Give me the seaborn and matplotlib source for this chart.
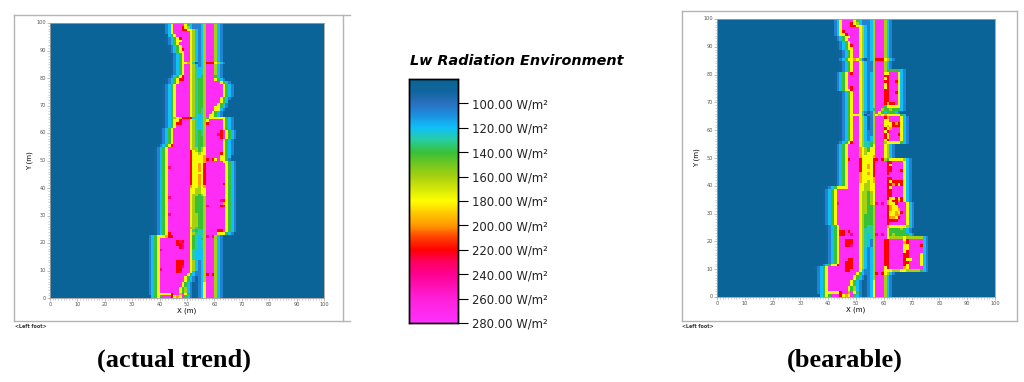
"""Two Lw radiation maps sharing one colour legend."""
import matplotlib

matplotlib.use("Agg")
import matplotlib.pyplot as plt
import numpy as np
import seaborn as sns
from matplotlib.colors import LinearSegmentedColormap
from matplotlib.lines import Line2D

W, H = 1024, 382

# legend colours, W/m2 -> colour
LEVELS = [80, 90, 100, 110, 120, 130, 140, 150, 160, 180, 190, 200, 210, 220, 230, 240, 260, 280]
COLOURS = ["#0a6496", "#0f659c", "#2a70c0", "#1a92e0", "#10c0f8", "#28cda0", "#38c038", "#72c820",
           "#a8d010", "#ffff00", "#ffc800", "#ff9800", "#ff4000", "#ff0000", "#ff0060", "#ff0090",
           "#ff20d8", "#ff30ff"]
TICKS = [100, 120, 140, 160, 180, 200, 220, 240, 260, 280]
AXIS_TICKS = list(range(0, 101, 10))

# what each letter in the rows below reads as, W/m2
CELL_VALUE = {".": 82, "a": 90, "b": 105, "c": 120, "t": 130, "g": 140, "l": 160,
              "y": 178, "o": 198, "r": 220, "p": 240, "m": 275}

# one string per metre, y=99 first. left of | ends at x=56, right of | starts at x=57
ACTUAL_ROWS = [
    "bcymmmmygcbbbcl|mmmlcb",
    "bcymmmrylcbbbcl|mmmlcb",
    "bcymmmrryylcbcl|mmmlcb",
    "bcymmmmmmylcbcl|mmmlcb",
    "acgymmmmmylcbcl|mmmlcb",
    "abcgyrmmmylcbcl|mmmlcb",
    "abcgyymmmylcbcl|mmmlcb",
    "abcgymmmmylcbcl|mmmlcb",
    "abcgymmmylcbcl|mmmlcb",
    "abcgyrmmylcbcl|mmmlcb",
    # y=89
    "abcgyymmylcbcl|mmmlcb",
    "abcgymmylcbcl|mmmlcb",
    "abcgymmylcbcl|mmmlcb",
    "abcgymmylcbcl|mmmlcb",
    "abcgyyoytabcl|rrrylcb",
    "abcgymmylcbcl|mmmlcb",
    "abcgymmyltctl|mmmlcb",
    "abcgymmyltctl|mmmlcb",
    "abcgymmyltctl|mmmlcb",
    "abcgyrmmyltcgl|mmmgcb",
    # y=79
    "abcgyrrmmyltggl|mmmygcb",
    "abcgymmmmyltggl|mmmmmygcb",
    "abcgymmmmmyltggl|mmmmmmygcb",
    "abcgymmmmmyltggl|mmmmmmygcb",
    "abcgymmmmmyltggl|mmmmmmygcb",
    "abcgymmmmmyltggl|mmmmmmygcb",
    "abcgymmmmmyltggl|mmmmmmygcb",
    "abcgymmmmmyltggl|mmmmmygcb",
    "abcgymmmmmyltggl|mmmmmygc",
    "abcgymmmmmyltggl|mmmmygcb",
    # y=69
    "abcgymmmmmyltggl|mmmyygcb",
    "abcgymmmmmyltgtl|mmmyycb",
    "abcgymmmmmyltgtl|mmygcb",
    "abcgymmmmmyltctl|myygcb",
    "abcglyorrrrctctl|gyyyyyygcb",
    "abcgyyrmmmyltctl|ymmmmmygcb",
    "abcgyrrmmmyltctl|rmmmmmygcb",
    "abcgymmmmmyltctl|mmmmmmygcb",
    "abcgymmmmmmyltctl|mmmmmmygcb",
    "abcgymmmmmmyltgtl|mmmmmrmygcb",
    # y=59
    "abcgymmmmmmyltgtl|mmmmprmygcb",
    "abcgymmmmmmyltggl|mmmmmrmygcb",
    "abcgymmmmmmyltggl|mmmmmmygcb",
    "abcgymmmmmmyltggl|mmmmmmygcb",
    "abcgyrmmmmmmyltggl|mmmmmmygcb",
    "abcgymmmmmmmmyllgly|mmmmmmygcb",
    "abcgymmmmmmmmrylgly|mmmmmmygcb",
    "abcgymmmmmmmmryylyy|mmmmmrygcb",
    "abcgymmmmmmmmryyyyo|mmmmmyygc",
    "abcgymmmmmmmmryyyyo|rmrymyygb",
    # y=49
    "abcgymmmmmmmmryyyyo|mmmmmmyygcb",
    "abcgymmmmmmmmryyoyr|mmmmmmmygcb",
    "abcgypmmmmmmmryyoyr|mmmmmmmygcb",
    "abcgymmmmmmmmryyoyr|mmmmmmmygcb",
    "abcgymmmmmmmmryyyyr|mmmmmmmygcb",
    "abcgymmmmmmmmryyoyr|mmmmmmmygcb",
    "abcgymmmmmmmmryyoyr|mmmmmmmygcb",
    "abcgymmmmmmmmryyoyr|mmmmmmmygcb",
    "abcgymmmmmmmmryyoyr|mmmmmmrygcb",
    "abcgymmmmmmmmoyylyo|mmmmmmmygcb",
    # y=39
    "abcgymmmmmmmmyyllyy|mmmmmmmygcb",
    "abcgymmmmmmmmyyllyy|mmmmmmmygcb",
    "abcgymmmmmmmmyllgly|mmmmmmmygcb",
    "abcgypmmmmmmmylgggl|mmmmmmmygcb",
    "abcgymmmmmmmmylgggl|mmmmmprygcb",
    "abcgymmmmmmmmylgggl|mmmmmmoygcb",
    "abcgymmmmmmmmylgggl|pmmmmrpygcb",
    "abcgymmmmmmmmylgggl|mmmmmmmygcb",
    "abcgymmmmmmmmylgggl|mmmmmmmygcb",
    "abcgypmmmmmmmyllggl|mmmmmmmygcb",
    # y=29
    "abcgymmmmmmmmyllggl|mmmmmmmygcb",
    "abcgymmmmmmmmyllggl|mmmmmmmygcb",
    "abcgymmmmmmmmyllggl|mmmmmmmygcb",
    "abcgymmmmmmmmyllggl|mmmmmmmygcb",
    "abcgymmmmmmmmoltggl|mmmmmmmygcb",
    "abcgymmmmmmmmytgtcl|mmmmrrmygcb",
    "abcgyrmmmmmmmyltttl|mmmmyyygcb",
    "bcgyyyorrmmmmmmygtctl|pmplcb",
    "bcgymmmmmmmmmmmygtcgl|mmmlcb",
    "bcgymmmmmmrprmmygtctl|mmmlcb",
    # y=19
    "bcgymmmmmmrrpmmygtctl|mmmlcb",
    "bcgymmmmmmmrpmmygtctl|mmmlcb",
    "bcgypmmmmmmmmmmytcccl|mmmlcb",
    "bcgymmmmmmmmmmmytcccl|mmmlcb",
    "bcgymmmmmmmmmmmytcccl|mmmlcb",
    "bcgymmmmmmmmmmmytcccl|mmmlcb",
    "bcgymmmmmmrrrmmylcbcl|mmmlcb",
    "bcgymmmmmmrrrmmylcbcl|mmmlcb",
    "bcgymmmmmmrrpmmylcbcl|mmmlcb",
    "bcgypmmmmmrrmmmylcbcl|mmmlcb",
    # y=9
    "bcgymmmmmmrpmmmycbbcl|mmmlcb",
    "bcgymmmmmmmmmmygcbbcl|rmrlcb",
    "bcgymmmmmmmmmygcbabcl|mmmlcb",
    "bcgymmmmmmmmmygcbabcl|mmmlcb",
    "bcgymmmmmmmmygcb.abcy|mmmlcb",
    "bcgymmmmmmmmygcb.abcy|mmmlcb",
    "bcgymmmmmmmyglcb.abcy|mmmlcb",
    "bcgymmmmmmmyglcb.abcy|mmmlcb",
    "bcgyyyyyrmmomygb.abcy|mmmlcb",
    ".cgygmmmryoymgcb.abcy|mmmlcb",
]

BEARABLE_ROWS = [
    "bcymmmmygcbbbcl|mmmlcb",
    "bcymmmrylcbbbcl|mmmlcb",
    "bcymmmrryylcbcl|mmmlcb",
    "bcymmmmmmylcbcl|mmmlcb",
    "bcyrmmmmmylcbcl|mmmlcb",
    "bcyyrmmmmylcbcl|mmmlcb",
    "abcgyymmmylcbcl|mmmlcb",
    "abcgymmmmylcbcl|mmmlcb",
    "abcgymmmylcbcl|mmmlcb",
    "abcgyrmmylcbcl|mmmlcb",
    # y=89
    "abcgyymmylcbcl|mmmlcb",
    "abcgymmylcbcl|mmmlcb",
    "abcgymmylcbcl|mmmlcb",
    "abcgymmylcbcl|mmmlcb",
    "abcgyyoylbabcl|rrrylcb",
    "abcgymmylcbbl|mmmlcb",
    "abcgymmylcbbl|mmmlcb",
    "abcgymmylcbbl|mmmlcb",
    "abcgymmylcbbl|mmmlgggggcb",
    "abcgymrmmylcbcl|mmmyymmmycb",
    # y=79
    "abcgymmmmylcbcl|mmmrrmmmycb",
    "abcgymmmmylcbcl|mmmyrmmmycb",
    "abcgymmmmylcbcl|mmmrrmmrycb",
    "abcgymmmmylcbcl|mmmyrmmmycb",
    "abcgymrmmylcbcl|mmmyrmmmycb",
    "abcgyyrmmylcbcl|mmmrrmmmycb",
    "abcgymmylcbcl|mmmrrmmrycb",
    "abcgymmylcbcl|mmmrrmmmycb",
    "abcgymmylcbcl|mmmrrmmmycb",
    "abcgymmylcbcl|mmmrrmmmycb",
    # y=69
    "abcgymmylcbcl|mmmrorrmycb",
    "abcgymmylcbcl|mmmgyyyyycb",
    "abcgymmylcbcg|mmlgglgggcb",
    "abcgymmytbabl|mygcgggcb",
    "abcgyyyytabbl|ylyoyyyyygc",
    "abcgymmylcabl|mmmrommmmycb",
    "abcgymmylcabl|mmmyymmmmycb",
    "abcgymmylcabl|mmmyyyrorycb",
    "abcgymmylcabl|mmmyoyrrrycb",
    "abcgymmylcabl|mmmryommmycb",
    # y=59
    "abcgymmylcbbl|mmmyrmmmmycb",
    "abcgymmylcbbl|mmmrymmmrycb",
    "abcgymmylcbcl|mmmrymmmmycb",
    "abcgymmylcbcl|mmmyrmmmmycb",
    "abcgyrmmyltcgl|mmmlyyyyygcb",
    "abcgymmmmyltcgy|mmmylcb",
    "abcgymmmmoylgyy|mmmylcb",
    "abcgymmmmoylgyy|mmmylcb",
    "abcgymmmmoylyyy|mmmylcb",
    "abcgymmmmoyyyyo|mmmylcb",
    # y=49
    "abcgyrmmmryyyyr|rmrlgyyyyylcb",
    "abcgymmmmryyyyr|mmmmrrmmmmycb",
    "abcgymmmmryyoyr|mmmmrymmmmycb",
    "abcgymmmmryyoyr|mmmmrrmmmmycb",
    "abcgymmmmryyyyr|mmmmrrmmmrycb",
    "abcgymmmmoyyoyr|mmmmrmmmmmycb",
    "abcgymmmmoyyyyr|mmmmmmmmmmycb",
    "abcgymmmmoyyyyo|mmmmrrmmmmycb",
    "abcgymmmmoyylyo|mmmmryrrrrycb",
    "abcgymmmmyyllyy|mmmmrroryrycb",
    # y=39
    "abcgyyyymmmmyyllyy|mmmmrymmmmycb",
    "abcgymmmmmmmmyyllyy|mmmmrrmmmmycb",
    "abcgymmmmmmmmyllgly|mmmmrrmmmmycb",
    "abcgymmmmmmmmyllgly|mmmmrrmmmmycb",
    "abcgymmmmmmmmyllgly|mmmmryyryrycb",
    "abcgymmmmmmmmyllgly|mmmmoyrrorycb",
    "abcgypmmmmmmmyllgly|pmpmoyyrmmmycb",
    "abcgymmmmmmmmyllggl|mmmmroyymmmycb",
    "abcgymmmmmmmmyllggl|mmmmroyyommycb",
    "abcgymmmmmmmmyllggl|mmmmryyoyrmycb",
    # y=29
    "abcgymmmmmmmmylgggl|mmmmryyoommycb",
    "abcgymmmmmmmmylgggl|mmmmrooyrmmycb",
    "abcgymmmmmmmmylgggl|mmmmrrrrmmmycb",
    "abcgymmmmmmmmylgggl|mmmmrmmmmmmycb",
    "abcgymmmmmmmylgttl|mmmmoyyyyyylcb",
    "abcgymmmmmmmyltttl|mmmmygggglgcb",
    "abcgyrrmrmmmyltttl|mmmmyggggggcb",
    "abcgyrrmmpmmyltctl|pmpmyglgggggcb",
    "abcgymmmmmmmyltctl|mmmmylllllyllllllcb",
    "abcgymmrrrmmyltcbl|mmmrrmmmmmyrmmmmmcb",
    # y=19
    "abcgymmrrrmmyltcbl|mmmrrmmmmmormmmmmcb",
    "abcgymmrrpmmyltcbl|mmmrrmmmmmyymmmmrcb",
    "abcgymmmmmmmylcbcl|mmmrrmmmmmyymmmmmcb",
    "abcgymmmmmmmylcbcl|mmmrrmmmmmyrmmmmmcb",
    "abcgymmmmmmmylcbcl|mmmrrmmmmmrrmmmmycb",
    "abcgymmmmmmmylcbcl|mmmrrmmmmmrrmmmmycb",
    "abcgymmmrrmmylcbcl|mmmrrmmmmmryymmmycb",
    "abcgymmrrrmmylcbcl|mmmrrmmmmmrrmmmmycb",
    "abcgyyrmmrrrmmylcbcl|mmmrrmmmmmrymmmmycb",
    "abcgymmmmmmrrrmmylcbcl|mmmyrmmmmmoymmmmmcb",
    # y=9
    "bcgymmmmmmrrmmmycbbcl|mmmyyylllyylllllgcb",
    "bcgymmmmmmmmmmygcbbcl|rmrylcb",
    "bcgymmmmmmmmmygcbabcl|mmmlcb",
    "bcgymmmmmmmmmygcbabcl|mmmlcb",
    "bcgymmmmmmmmygcb.abcy|mmmlcb",
    "bcgymmmmmmmmygcb.abcy|mmmlcb",
    "bcgymmmmmmmyglcb.abcy|mmmlcb",
    "bcgymmmmmmmyglcb.abcy|mmmlcb",
    "bcgyyyyyrmmomygb.abcy|mmmlcb",
    ".cgygmmmryoymgcb.abcy|mmmlcb",
]


def to_grid(rows):
    grid = np.full((100, 100), float(CELL_VALUE["."]))
    for i, row in enumerate(rows):
        left, right = row.split("|")
        cells = left.rjust(23, ".") + right.ljust(22, ".")
        grid[i, 34:79] = [CELL_VALUE[c] for c in cells]
    return grid


def px_axes(fig, x0, y0, x1, y1):
    return fig.add_axes([x0 / W, 1 - y1 / H, (x1 - x0) / W, (y1 - y0) / H])


def px_line(fig, x0, y0, x1, y1):
    fig.add_artist(Line2D([x0 / W, x1 / W], [1 - y0 / H, 1 - y1 / H], color="#b4b4b4", lw=1.0))


def draw_map(ax, rows, cmap, **kwargs):
    sns.heatmap(to_grid(rows), ax=ax, cmap=cmap, vmin=LEVELS[0], vmax=LEVELS[-1], **kwargs)
    ax.set_xticks(AXIS_TICKS, labels=AXIS_TICKS, rotation=0)
    ax.set_yticks(AXIS_TICKS, labels=AXIS_TICKS[::-1], rotation=0)
    ax.set_xticks(np.arange(0, 101), minor=True)
    ax.set_yticks(np.arange(0, 101), minor=True)
    ax.tick_params(which="major", length=2, width=0.4, color="#888888", labelsize=3.6,
                   labelcolor="#555555", pad=1)
    ax.tick_params(which="minor", length=1.4, width=0.4, color="#aaaaaa")
    ax.set_xlabel("X (m)", fontsize=5, labelpad=0.5)
    ax.set_ylabel("Y (m)", fontsize=5, labelpad=2)
    for spine in ax.spines.values():
        spine.set_visible(True)
        spine.set_color("#a0a0a0")
        spine.set_linewidth(0.6)


def main():
    cmap = LinearSegmentedColormap.from_list(
        "lw", [((v - LEVELS[0]) / (LEVELS[-1] - LEVELS[0]), c) for v, c in zip(LEVELS, COLOURS)], N=512
    )
    fig = plt.figure(figsize=(W / 100, H / 100), dpi=100)

    cax = px_axes(fig, 409, 79, 458, 323)
    ax_left = px_axes(fig, 50, 23, 324, 298)
    draw_map(ax_left, ACTUAL_ROWS, cmap, cbar_ax=cax, cbar_kws={"ticks": TICKS})
    ax_right = px_axes(fig, 717, 19, 995, 297)
    draw_map(ax_right, BEARABLE_ROWS, cmap, cbar=False)

    cax.invert_yaxis()
    cax.set_yticks(TICKS, labels=[f"{t:.2f} W/m²" for t in TICKS])
    cax.tick_params(length=7.2, width=0.8, color="black", labelsize=8.4, labelcolor="#222222", pad=2.8)
    for spine in cax.spines.values():
        spine.set_visible(True)
        spine.set_color("black")
        spine.set_linewidth(1.0)
    fig.text(517 / W, 1 - 61 / H, "Lw Radiation Environment", ha="center", va="center",
             fontsize=10.4, fontweight="bold", fontstyle="italic", color="black")

    # report page frames behind the two maps
    px_line(fig, 14, 15, 350, 15)
    px_line(fig, 14, 321, 350, 321)
    px_line(fig, 14, 15, 14, 321)
    px_line(fig, 343, 15, 343, 321)
    px_line(fig, 682, 11, 1017, 11)
    px_line(fig, 682, 321, 1017, 321)
    px_line(fig, 682, 11, 682, 321)
    px_line(fig, 1017, 11, 1017, 321)

    for x in (15, 682):
        fig.text(x / W, 1 - 327 / H, "<Left foot>", fontsize=3.4, fontweight="bold",
                 va="center", color="#333333")

    for x, label in ((174, "(actual trend)"), (845, "(bearable)")):
        fig.text(x / W, 1 - 360 / H, label, ha="center", va="center", fontsize=19,
                 fontweight="bold", family="Liberation Serif", color="black")

    fig.savefig("out.png", dpi=100)


if __name__ == "__main__":
    main()
